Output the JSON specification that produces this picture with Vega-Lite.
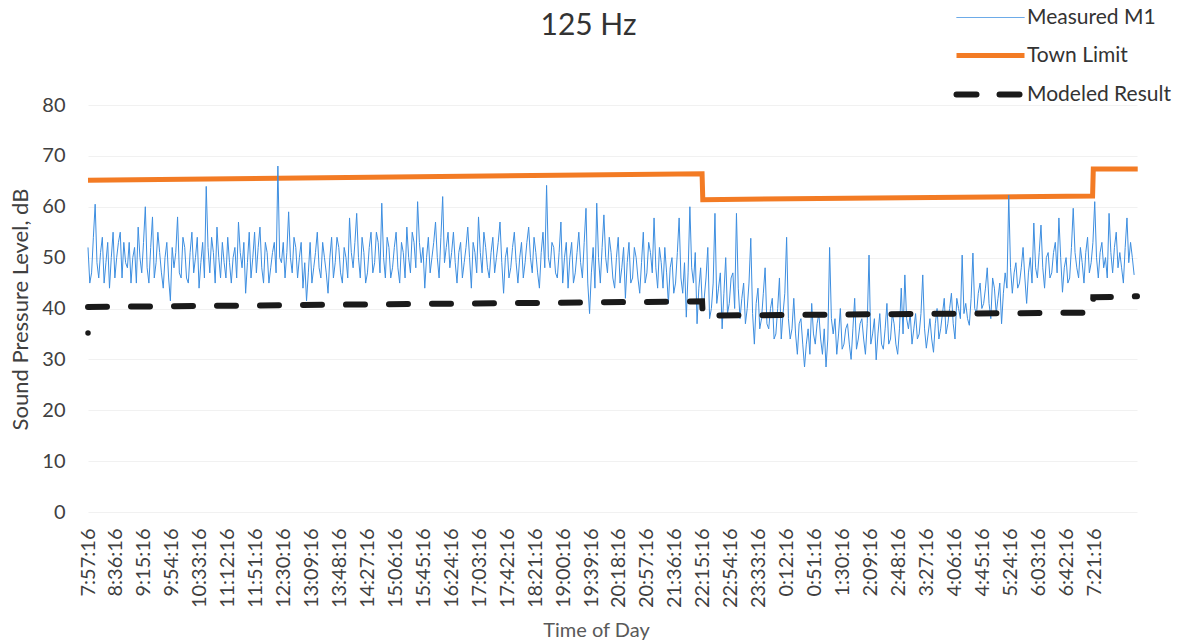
{
  "$schema": "https://vega.github.io/schema/vega-lite/v6.json",
  "width": 1049,
  "height": 407,
  "autosize": {"type": "none"},
  "padding": {"left": 88, "top": 105, "right": 46, "bottom": 132},
  "background": "white",
  "title": {"text": "125 Hz", "font": "Lato", "fontSize": 30, "fontWeight": "normal", "color": "#333333", "anchor": "middle", "dx": -24, "dy": 38},
  "config": {"view": {"stroke": null}, "font": "Lato"},
  "datasets": {
    "measured": [
      {"m":0,"v":52},{"m":5,"v":47},{"m":10,"v":60.5},{"m":15,"v":46},{"m":20,"v":54},{"m":25,"v":49},{"m":30,"v":44},{"m":35,"v":55},
      {"m":40,"v":50},{"m":45,"v":55},{"m":50,"v":53},{"m":55,"v":48},{"m":60,"v":45},{"m":65,"v":52},{"m":70,"v":56},{"m":75,"v":47},
      {"m":80,"v":60},{"m":85,"v":45},{"m":90,"v":58},{"m":95,"v":49},{"m":100,"v":51},{"m":105,"v":44},{"m":110,"v":53},{"m":115,"v":41.5},
      {"m":120,"v":48},{"m":125,"v":58},{"m":130,"v":46},{"m":135,"v":52},{"m":140,"v":45},{"m":145,"v":55},{"m":150,"v":50},{"m":155,"v":44},
      {"m":160,"v":53},{"m":165,"v":64},{"m":170,"v":47},{"m":175,"v":51},{"m":180,"v":56},{"m":185,"v":46},{"m":190,"v":49},{"m":195,"v":54},
      {"m":200,"v":45},{"m":205,"v":52},{"m":210,"v":57},{"m":215,"v":48},{"m":220,"v":43},{"m":225,"v":55},{"m":230,"v":50},{"m":235,"v":47},
      {"m":240,"v":56},{"m":245,"v":45},{"m":250,"v":51},{"m":255,"v":48},{"m":260,"v":53},{"m":265,"v":68},{"m":270,"v":49},{"m":275,"v":46},
      {"m":280,"v":59},{"m":285,"v":47},{"m":290,"v":52},{"m":295,"v":50},{"m":300,"v":44},{"m":305,"v":41.5},{"m":310,"v":53},{"m":315,"v":48},
      {"m":320,"v":55},{"m":325,"v":46},{"m":330,"v":50},{"m":335,"v":43},{"m":340,"v":54},{"m":345,"v":49},{"m":350,"v":52},{"m":355,"v":45},
      {"m":360,"v":50},{"m":365,"v":57.8},{"m":370,"v":48},{"m":375,"v":58.7},{"m":380,"v":46},{"m":385,"v":51},{"m":390,"v":47},{"m":395,"v":55},
      {"m":400,"v":49},{"m":405,"v":53},{"m":410,"v":60.7},{"m":415,"v":46},{"m":420,"v":52},{"m":425,"v":48},{"m":430,"v":55},{"m":435,"v":45},
      {"m":440,"v":51},{"m":445,"v":56},{"m":450,"v":47},{"m":455,"v":53},{"m":460,"v":61},{"m":465,"v":49},{"m":470,"v":44},{"m":475,"v":54},
      {"m":480,"v":50},{"m":485,"v":57},{"m":490,"v":46},{"m":495,"v":62},{"m":500,"v":52},{"m":505,"v":48},{"m":510,"v":55},{"m":515,"v":45},
      {"m":520,"v":53},{"m":525,"v":49},{"m":530,"v":56},{"m":535,"v":44},{"m":540,"v":51},{"m":545,"v":58},{"m":550,"v":47},{"m":555,"v":52},
      {"m":560,"v":46},{"m":565,"v":54},{"m":570,"v":50},{"m":575,"v":57},{"m":580,"v":43},{"m":585,"v":52},{"m":590,"v":48},{"m":595,"v":55},
      {"m":600,"v":45},{"m":605,"v":53},{"m":610,"v":49},{"m":615,"v":56},{"m":620,"v":47},{"m":625,"v":51},{"m":630,"v":44},{"m":635,"v":55},
      {"m":640,"v":64.2},{"m":645,"v":48},{"m":650,"v":52},{"m":655,"v":46},{"m":660,"v":57},{"m":665,"v":50},{"m":670,"v":44},{"m":675,"v":53},
      {"m":680,"v":47},{"m":685,"v":55},{"m":690,"v":46},{"m":695,"v":59.7},{"m":700,"v":39},{"m":705,"v":52},{"m":710,"v":60.7},{"m":715,"v":45},
      {"m":720,"v":58.4},{"m":725,"v":47},{"m":730,"v":51},{"m":735,"v":44},{"m":740,"v":54},{"m":745,"v":48},{"m":750,"v":42},{"m":755,"v":53},
      {"m":760,"v":46},{"m":765,"v":50},{"m":770,"v":43},{"m":775,"v":55},{"m":780,"v":47},{"m":785,"v":51},{"m":790,"v":57.8},{"m":795,"v":44},
      {"m":800,"v":49},{"m":805,"v":52},{"m":810,"v":41},{"m":815,"v":50},{"m":820,"v":45},{"m":825,"v":57.8},{"m":830,"v":43},{"m":835,"v":38.3},
      {"m":840,"v":60},{"m":845,"v":45},{"m":850,"v":37},{"m":855,"v":48},{"m":860,"v":42},{"m":865,"v":52},{"m":870,"v":40},{"m":875,"v":58.7},
      {"m":880,"v":44},{"m":885,"v":36},{"m":890,"v":50},{"m":895,"v":41},{"m":900,"v":47},{"m":905,"v":58.7},{"m":910,"v":38},{"m":915,"v":45},
      {"m":920,"v":40},{"m":925,"v":53.8},{"m":930,"v":33},{"m":935,"v":44},{"m":940,"v":38},{"m":945,"v":48},{"m":950,"v":36},{"m":955,"v":42},
      {"m":960,"v":35},{"m":965,"v":46},{"m":970,"v":39},{"m":975,"v":54},{"m":980,"v":34},{"m":985,"v":42},{"m":990,"v":31},{"m":995,"v":38},
      {"m":1000,"v":28.5},{"m":1005,"v":36},{"m":1010,"v":41},{"m":1015,"v":33},{"m":1020,"v":39},{"m":1025,"v":31},{"m":1030,"v":28.5},{"m":1035,"v":52},
      {"m":1040,"v":35},{"m":1045,"v":31},{"m":1050,"v":40},{"m":1055,"v":33},{"m":1060,"v":37},{"m":1065,"v":30},{"m":1070,"v":42},{"m":1075,"v":34},
      {"m":1080,"v":38},{"m":1085,"v":31},{"m":1090,"v":50.5},{"m":1095,"v":35},{"m":1100,"v":29.9},{"m":1105,"v":39},{"m":1110,"v":32},{"m":1115,"v":41},
      {"m":1120,"v":34},{"m":1125,"v":37},{"m":1130,"v":31},{"m":1135,"v":44},{"m":1140,"v":46.6},{"m":1145,"v":36},{"m":1150,"v":33},{"m":1155,"v":39},
      {"m":1160,"v":35},{"m":1165,"v":46.6},{"m":1170,"v":32.2},{"m":1175,"v":38},{"m":1180,"v":31.4},{"m":1185,"v":40},{"m":1190,"v":36},{"m":1195,"v":42},
      {"m":1200,"v":37},{"m":1205,"v":43},{"m":1210,"v":34},{"m":1215,"v":40},{"m":1220,"v":50.5},{"m":1225,"v":41},{"m":1230,"v":36.7},{"m":1235,"v":50.9},
      {"m":1240,"v":39},{"m":1245,"v":45},{"m":1250,"v":41},{"m":1255,"v":48},{"m":1260,"v":38},{"m":1265,"v":44},{"m":1270,"v":42},{"m":1275,"v":37},
      {"m":1280,"v":47},{"m":1285,"v":62.3},{"m":1290,"v":43},{"m":1295,"v":49},{"m":1300,"v":45},{"m":1305,"v":52},{"m":1310,"v":41},{"m":1315,"v":50},
      {"m":1320,"v":56.8},{"m":1325,"v":46},{"m":1330,"v":56.4},{"m":1335,"v":44},{"m":1340,"v":51},{"m":1345,"v":47},{"m":1350,"v":53},{"m":1355,"v":57.8},
      {"m":1360,"v":43.2},{"m":1365,"v":50},{"m":1370,"v":46},{"m":1375,"v":59.7},{"m":1380,"v":48},{"m":1385,"v":52},{"m":1390,"v":45},{"m":1395,"v":54},
      {"m":1400,"v":49},{"m":1405,"v":61},{"m":1410,"v":46},{"m":1415,"v":53},{"m":1420,"v":50},{"m":1425,"v":58.7},{"m":1430,"v":47},{"m":1435,"v":55},
      {"m":1440,"v":51},{"m":1445,"v":45},{"m":1450,"v":57.8},{"m":1455,"v":53},{"m":1460,"v":46.6},
      {"m":2.5,"v":45},{"m":7.5,"v":54},{"m":12.5,"v":49},{"m":17.5,"v":51},{"m":22.5,"v":45},{"m":27.5,"v":53},{"m":32.5,"v":50},{"m":37.5,"v":46},
      {"m":42.5,"v":53},{"m":47.5,"v":46},{"m":52.5,"v":49},{"m":57.5,"v":53},{"m":62.5,"v":50},{"m":67.5,"v":45},{"m":72.5,"v":50},{"m":77.5,"v":53},
      {"m":82.5,"v":48},{"m":87.5,"v":52},{"m":92.5,"v":46},{"m":97.5,"v":55},{"m":102.5,"v":47},{"m":107.5,"v":50},{"m":112.5,"v":46},{"m":117.5,"v":52},
      {"m":122.5,"v":51},{"m":127.5,"v":47},{"m":132.5,"v":54},{"m":137.5,"v":46},{"m":142.5,"v":51},{"m":147.5,"v":47},{"m":152.5,"v":54},{"m":157.5,"v":49},
      {"m":162.5,"v":46},{"m":167.5,"v":52},{"m":172.5,"v":54},{"m":177.5,"v":45},{"m":182.5,"v":50},{"m":187.5,"v":53},{"m":192.5,"v":46},{"m":197.5,"v":49},
      {"m":202.5,"v":50},{"m":207.5,"v":46},{"m":212.5,"v":51},{"m":217.5,"v":53},{"m":222.5,"v":49},{"m":227.5,"v":46},{"m":232.5,"v":55},{"m":237.5,"v":52},
      {"m":242.5,"v":48},{"m":247.5,"v":53},{"m":252.5,"v":45},{"m":257.5,"v":51},{"m":262.5,"v":47},{"m":267.5,"v":50},{"m":272.5,"v":53},{"m":277.5,"v":51},
      {"m":282.5,"v":50},{"m":287.5,"v":54},{"m":292.5,"v":46},{"m":297.5,"v":53},{"m":302.5,"v":49},{"m":307.5,"v":47},{"m":312.5,"v":45},{"m":317.5,"v":51},
      {"m":322.5,"v":48},{"m":327.5,"v":53},{"m":332.5,"v":47},{"m":337.5,"v":50},{"m":342.5,"v":46},{"m":347.5,"v":54},{"m":352.5,"v":47},{"m":357.5,"v":52},
      {"m":362.5,"v":46},{"m":367.5,"v":51},{"m":372.5,"v":53},{"m":377.5,"v":50},{"m":382.5,"v":54},{"m":387.5,"v":45},{"m":392.5,"v":52},{"m":397.5,"v":47},
      {"m":402.5,"v":55},{"m":407.5,"v":47},{"m":412.5,"v":50},{"m":417.5,"v":54},{"m":422.5,"v":46},{"m":427.5,"v":52},{"m":432.5,"v":48},{"m":437.5,"v":53},
      {"m":442.5,"v":46},{"m":447.5,"v":50},{"m":452.5,"v":55},{"m":457.5,"v":48},{"m":462.5,"v":53},{"m":467.5,"v":52},{"m":472.5,"v":50},{"m":477.5,"v":47},
      {"m":482.5,"v":53},{"m":487.5,"v":50},{"m":492.5,"v":54},{"m":497.5,"v":49},{"m":502.5,"v":55},{"m":507.5,"v":51},{"m":512.5,"v":49},{"m":517.5,"v":51},
      {"m":522.5,"v":46},{"m":527.5,"v":52},{"m":532.5,"v":50},{"m":537.5,"v":53},{"m":542.5,"v":47},{"m":547.5,"v":51},{"m":552.5,"v":55},{"m":557.5,"v":48},
      {"m":562.5,"v":51},{"m":567.5,"v":47},{"m":572.5,"v":53},{"m":577.5,"v":49},{"m":582.5,"v":50},{"m":587.5,"v":46},{"m":592.5,"v":52},{"m":597.5,"v":49},
      {"m":602.5,"v":50},{"m":607.5,"v":46},{"m":612.5,"v":53},{"m":617.5,"v":50},{"m":622.5,"v":54},{"m":627.5,"v":47},{"m":632.5,"v":51},{"m":637.5,"v":48},
      {"m":642.5,"v":50},{"m":647.5,"v":53},{"m":652.5,"v":47},{"m":657.5,"v":51},{"m":662.5,"v":45},{"m":667.5,"v":53},{"m":672.5,"v":50},{"m":677.5,"v":45},
      {"m":682.5,"v":51},{"m":687.5,"v":49},{"m":692.5,"v":53},{"m":697.5,"v":45},{"m":702.5,"v":47},{"m":707.5,"v":44},{"m":712.5,"v":50},{"m":717.5,"v":52},
      {"m":722.5,"v":50},{"m":727.5,"v":54},{"m":732.5,"v":46},{"m":737.5,"v":50},{"m":742.5,"v":45},{"m":747.5,"v":52},{"m":752.5,"v":49},{"m":757.5,"v":45},
      {"m":762.5,"v":52},{"m":767.5,"v":46},{"m":772.5,"v":49},{"m":777.5,"v":45},{"m":782.5,"v":53},{"m":787.5,"v":47},{"m":792.5,"v":48},{"m":797.5,"v":52},
      {"m":802.5,"v":44},{"m":807.5,"v":47},{"m":812.5,"v":48},{"m":817.5,"v":43},{"m":822.5,"v":51},{"m":827.5,"v":46},{"m":832.5,"v":49},{"m":837.5,"v":47},
      {"m":842.5,"v":48},{"m":847.5,"v":51},{"m":852.5,"v":44},{"m":857.5,"v":40},{"m":862.5,"v":46},{"m":867.5,"v":38},{"m":872.5,"v":45},{"m":877.5,"v":41},
      {"m":882.5,"v":47},{"m":887.5,"v":43},{"m":892.5,"v":39},{"m":897.5,"v":46},{"m":902.5,"v":40},{"m":907.5,"v":44},{"m":912.5,"v":42},{"m":917.5,"v":37},
      {"m":922.5,"v":45},{"m":927.5,"v":39},{"m":932.5,"v":41},{"m":937.5,"v":36},{"m":942.5,"v":43},{"m":947.5,"v":37},{"m":952.5,"v":40},{"m":957.5,"v":34},
      {"m":962.5,"v":40},{"m":967.5,"v":34},{"m":972.5,"v":43},{"m":977.5,"v":38},{"m":982.5,"v":36},{"m":987.5,"v":35},{"m":992.5,"v":37},{"m":997.5,"v":33},
      {"m":1002.5,"v":33},{"m":1007.5,"v":31},{"m":1012.5,"v":35},{"m":1017.5,"v":37},{"m":1022.5,"v":34},{"m":1027.5,"v":36},{"m":1032.5,"v":34},{"m":1037.5,"v":38},
      {"m":1042.5,"v":38},{"m":1047.5,"v":35},{"m":1052.5,"v":32},{"m":1057.5,"v":36},{"m":1062.5,"v":33},{"m":1067.5,"v":36},{"m":1072.5,"v":32},{"m":1077.5,"v":37},
      {"m":1082.5,"v":34},{"m":1087.5,"v":37},{"m":1092.5,"v":33},{"m":1097.5,"v":38},{"m":1102.5,"v":35},{"m":1107.5,"v":33},{"m":1112.5,"v":36},{"m":1117.5,"v":33},
      {"m":1122.5,"v":39},{"m":1127.5,"v":33},{"m":1132.5,"v":36},{"m":1137.5,"v":35},{"m":1142.5,"v":38},{"m":1147.5,"v":39},{"m":1152.5,"v":36},{"m":1157.5,"v":34},
      {"m":1162.5,"v":39},{"m":1167.5,"v":36},{"m":1172.5,"v":35},{"m":1177.5,"v":34},{"m":1182.5,"v":37},{"m":1187.5,"v":34},{"m":1192.5,"v":39},{"m":1197.5,"v":35},
      {"m":1202.5,"v":40},{"m":1207.5,"v":37},{"m":1212.5,"v":42},{"m":1217.5,"v":38},{"m":1222.5,"v":39},{"m":1227.5,"v":38},{"m":1232.5,"v":42},{"m":1237.5,"v":40},
      {"m":1242.5,"v":43},{"m":1247.5,"v":40},{"m":1252.5,"v":44},{"m":1257.5,"v":41},{"m":1262.5,"v":46},{"m":1267.5,"v":39},{"m":1272.5,"v":45},{"m":1277.5,"v":43},
      {"m":1282.5,"v":44},{"m":1287.5,"v":48},{"m":1292.5,"v":47},{"m":1297.5,"v":44},{"m":1302.5,"v":48},{"m":1307.5,"v":46},{"m":1312.5,"v":47},{"m":1317.5,"v":45},
      {"m":1322.5,"v":48},{"m":1327.5,"v":51},{"m":1332.5,"v":48},{"m":1337.5,"v":50},{"m":1342.5,"v":46},{"m":1347.5,"v":51},{"m":1352.5,"v":47},{"m":1357.5,"v":50},
      {"m":1362.5,"v":48},{"m":1367.5,"v":45},{"m":1372.5,"v":52},{"m":1377.5,"v":51},{"m":1382.5,"v":46},{"m":1387.5,"v":49},{"m":1392.5,"v":51},{"m":1397.5,"v":47},
      {"m":1402.5,"v":53},{"m":1407.5,"v":50},{"m":1412.5,"v":51},{"m":1417.5,"v":48},{"m":1422.5,"v":46},{"m":1427.5,"v":51},{"m":1432.5,"v":52},{"m":1437.5,"v":48},
      {"m":1442.5,"v":48},{"m":1447.5,"v":52},{"m":1452.5,"v":49},{"m":1457.5,"v":50}
    ],
    "limit": [
      {"m":0,"v":65.2},{"m":857,"v":66.5},{"m":858,"v":61.4},{"m":1402,"v":62.1},{"m":1403,"v":67.4},{"m":1465,"v":67.4}
    ],
    "modeled": [
      {"m":0,"v":40.3},{"m":857,"v":41.4},{"m":858,"v":38.6},{"m":1402,"v":39.2},{"m":1403,"v":42.2},{"m":1464,"v":42.4}
    ],
    "modeledStart": [
      {"m":0,"v":35.2}
    ]
  },
  "encoding": {
    "x": {
      "field": "m",
      "type": "quantitative",
      "scale": {"domain": [0, 1464], "nice": false, "zero": false},
      "axis": {
        "title": "Time of Day",
        "values": [0,39,78,117,156,195,234,273,312,351,390,429,468,507,546,585,624,663,702,741,780,819,858,897,936,975,1014,1053,1092,1131,1170,1209,1248,1287,1326,1365,1404],
        "labelExpr": "floor(((477 + datum.value) % 1440) / 60) + ':' + pad('' + ((477 + datum.value) % 60), 2, '0', 'left') + ':16'",
        "labelAngle": -90,
        "labelFont": "Lato",
        "labelFontSize": 20,
        "labelColor": "#404040",
        "labelPadding": 16,
        "labelOverlap": false,
        "labelBound": false,
        "labelFlush": false,
        "grid": false,
        "domain": false,
        "ticks": false,
        "titleFont": "Lato",
        "titleFontSize": 20,
        "titleFontWeight": "normal",
        "titleColor": "#595959",
        "titleX": 508,
        "titleY": 118,
        "titleAlign": "center",
        "titleBaseline": "middle"
      }
    },
    "y": {
      "field": "v",
      "type": "quantitative",
      "scale": {"domain": [0, 80], "nice": false},
      "axis": {
        "title": "Sound Pressure Level, dB",
        "values": [0,10,20,30,40,50,60,70,80],
        "labelFont": "Lato",
        "labelFontSize": 20,
        "labelColor": "#404040",
        "labelPadding": 23,
        "grid": true,
        "gridColor": "#f1f1f1",
        "gridWidth": 1,
        "domain": false,
        "ticks": false,
        "titleFont": "Lato",
        "titleFontSize": 22,
        "titleFontWeight": "normal",
        "titleColor": "#404040",
        "titleX": -68,
        "titleY": 204,
        "titleAlign": "center",
        "titleBaseline": "middle",
        "titleAngle": -90
      }
    }
  },
  "layer": [
    {
      "data": {"name": "limit"},
      "mark": {"type": "line", "strokeWidth": 5, "strokeJoin": "miter"},
      "encoding": {
        "color": {
          "datum": "Town Limit",
          "type": "nominal",
          "scale": {
            "domain": ["Measured M1", "Town Limit", "Modeled Result"],
            "range": ["#3d8ee0", "#f37b24", "#1a1a1a"]
          },
          "legend": {
            "title": null,
            "orient": "none",
            "legendX": 892,
            "legendY": -98,
            "padding": 0,
            "symbolType": "stroke",
            "symbolSize": 196,
            "symbolStrokeWidth": 2,
            "labelFont": "Lato",
            "labelFontSize": 21,
            "labelColor": "#333333",
            "labelOffset": 26,
            "labelLimit": 300,
            "rowPadding": 16,
            "encode": {
              "symbols": {
                "update": {
                  "size": {"value": 4624},
                  "strokeWidth": {"signal": "datum.value === 'Measured M1' ? 1 : datum.value === 'Town Limit' ? 5 : 6"},
                  "strokeDash": {"signal": "datum.value === 'Modeled Result' ? [20, 23] : [1, 0]"},
                  "strokeCap": {"signal": "datum.value === 'Modeled Result' ? 'round' : 'butt'"},
                  "opacity": {"value": 1}
                }
              }
            }
          }
        }
      }
    },
    {
      "data": {"name": "measured"},
      "mark": {"type": "line", "strokeWidth": 1},
      "encoding": {
        "color": {"datum": "Measured M1", "type": "nominal"}
      }
    },
    {
      "data": {"name": "modeled"},
      "mark": {"type": "line", "strokeWidth": 6, "strokeDash": [19, 24], "strokeCap": "round"},
      "encoding": {
        "color": {"datum": "Modeled Result", "type": "nominal"}
      }
    },
    {
      "data": {"name": "modeledStart"},
      "mark": {"type": "point", "filled": true, "size": 30, "color": "#1a1a1a", "opacity": 1}
    }
  ]
}
